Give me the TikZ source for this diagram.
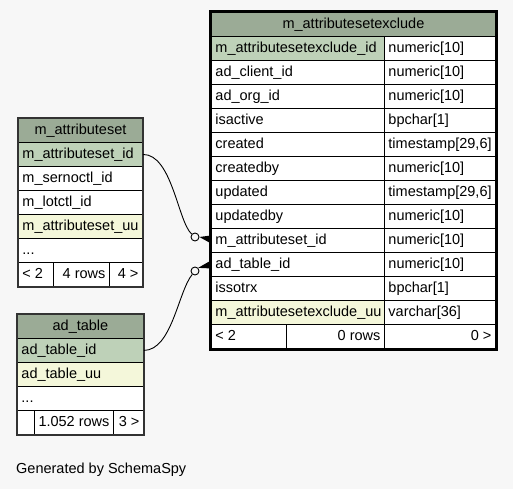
\documentclass[tikz,border=0pt]{standalone}
\usepackage{fontspec}
\setmainfont{Liberation Sans}
\definecolor{bg}{HTML}{F7F7F7}
\definecolor{hdr}{HTML}{9BAB96}
\definecolor{pk}{HTML}{BED1B8}
\definecolor{uu}{HTML}{F4F7DA}
\tikzset{
  cellbox/.style={draw=black, line width=0.9pt, rectangle, inner xsep=4pt, inner ysep=0pt,
    text height=10.5pt, text depth=3pt, anchor=north west},
  rel/.style={draw=black, line width=0.9pt},
  odot/.style={circle, draw=black, line width=0.9pt, fill=bg, minimum size=8pt, inner sep=0pt},
  frame/.style={draw=black, line width=2.5pt},
  lframe/.style={draw=black!80, line width=1.4pt}
}
\newcommand\cell[8]{%
  \node[cellbox, fill=#6, minimum width=#4pt, minimum height=#5pt] (#1) at (#2,#3)
    {\makebox[\dimexpr#4pt-8pt\relax][#7]{#8}};}
\begin{document}
\begin{tikzpicture}[x=1pt,y=-1pt,font=\fontsize{14.5}{17}\selectfont]
\fill[bg] (0,0) rectangle (513,489);
\useasboundingbox (0,0) rectangle (513,489);
% main table
\cell{mh}{211}{12}{284}{24}{hdr}{c}{m\_attributesetexclude}
\cell{m0l}{211}{36}{173}{24}{pk}{l}{m\_attributesetexclude\_id}
\cell{m0r}{384}{36}{111}{24}{white}{l}{numeric[10]}
\cell{m1l}{211}{60}{173}{24}{white}{l}{ad\_client\_id}
\cell{m1r}{384}{60}{111}{24}{white}{l}{numeric[10]}
\cell{m2l}{211}{84}{173}{24}{white}{l}{ad\_org\_id}
\cell{m2r}{384}{84}{111}{24}{white}{l}{numeric[10]}
\cell{m3l}{211}{108}{173}{24}{white}{l}{isactive}
\cell{m3r}{384}{108}{111}{24}{white}{l}{bpchar[1]}
\cell{m4l}{211}{132}{173}{24}{white}{l}{created}
\cell{m4r}{384}{132}{111}{24}{white}{l}{timestamp[29,6]}
\cell{m5l}{211}{156}{173}{24}{white}{l}{createdby}
\cell{m5r}{384}{156}{111}{24}{white}{l}{numeric[10]}
\cell{m6l}{211}{180}{173}{24}{white}{l}{updated}
\cell{m6r}{384}{180}{111}{24}{white}{l}{timestamp[29,6]}
\cell{m7l}{211}{204}{173}{24}{white}{l}{updatedby}
\cell{m7r}{384}{204}{111}{24}{white}{l}{numeric[10]}
\cell{m8l}{211}{228}{173}{24}{white}{l}{m\_attributeset\_id}
\cell{m8r}{384}{228}{111}{24}{white}{l}{numeric[10]}
\cell{m9l}{211}{252}{173}{24}{white}{l}{ad\_table\_id}
\cell{m9r}{384}{252}{111}{24}{white}{l}{numeric[10]}
\cell{m10l}{211}{276}{173}{24}{white}{l}{issotrx}
\cell{m10r}{384}{276}{111}{24}{white}{l}{bpchar[1]}
\cell{m11l}{211}{300}{173}{24}{uu}{l}{m\_attributesetexclude\_uu}
\cell{m11r}{384}{300}{111}{24}{white}{l}{varchar[36]}
\cell{mf1}{211}{324}{75}{24}{white}{l}{< 2}
\cell{mf2}{286}{324}{98}{24}{white}{r}{0 rows}
\cell{mf3}{384}{324}{111}{24}{white}{r}{0 >}
\draw[frame] ([shift={(-1.2pt,1.2pt)}]mh.north west) rectangle ([shift={(1.2pt,-1.2pt)}]mf3.south east);
% m_attributeset
\cell{ah}{18}{118}{124}{24}{hdr}{c}{m\_attributeset}
\cell{a1}{18}{142}{124}{24}{pk}{l}{m\_attributeset\_id}
\cell{a2}{18}{166}{124}{24}{white}{l}{m\_sernoctl\_id}
\cell{a3}{18}{190}{124}{24}{white}{l}{m\_lotctl\_id}
\cell{a4}{18}{214}{124}{24}{uu}{l}{m\_attributeset\_uu}
\cell{a5}{18}{238}{124}{24}{white}{l}{...}
\cell{af1}{18}{262}{35}{24}{white}{l}{< 2}
\cell{af2}{53}{262}{56}{24}{white}{r}{4 rows}
\cell{af3}{109}{262}{33}{24}{white}{r}{4 >}
\draw[lframe] (ah.north west) rectangle (af3.south east);
% ad_table
\cell{bh}{17}{314}{126}{24}{hdr}{c}{ad\_table}
\cell{b1}{17}{338}{126}{24}{pk}{l}{ad\_table\_id}
\cell{b2}{17}{362}{126}{24}{uu}{l}{ad\_table\_uu}
\cell{b3}{17}{386}{126}{24}{white}{l}{...}
\cell{bf1}{17}{410}{17}{24}{white}{l}{}
\cell{bf2}{34}{410}{79}{24}{white}{r}{1.052 rows}
\cell{bf3}{113}{410}{30}{24}{white}{r}{3 >}
\draw[lframe] (bh.north west) rectangle (bf3.south east);
% relationships
\node[odot] (o1) at (195,237) {};
\node[odot] (o2) at (195,271) {};
\draw[rel] (a1.east) .. controls (172,154) and (178,222) .. (o1);
\draw[rel] (b1.east) .. controls (172,350) and (178,292) .. (o2);
\fill[black] (o1.east) -- ([yshift=5pt]m8l.west) -- ([yshift=-3pt]m8l.west) -- cycle;
\fill[black] (o2.north east) -- ([yshift=4pt]m9l.west) -- ([yshift=-4pt]m9l.west) -- cycle;
% footer
\node[anchor=base west, inner sep=0pt] (gen) at (16,473) {Generated by SchemaSpy};
\end{tikzpicture}
\end{document}
